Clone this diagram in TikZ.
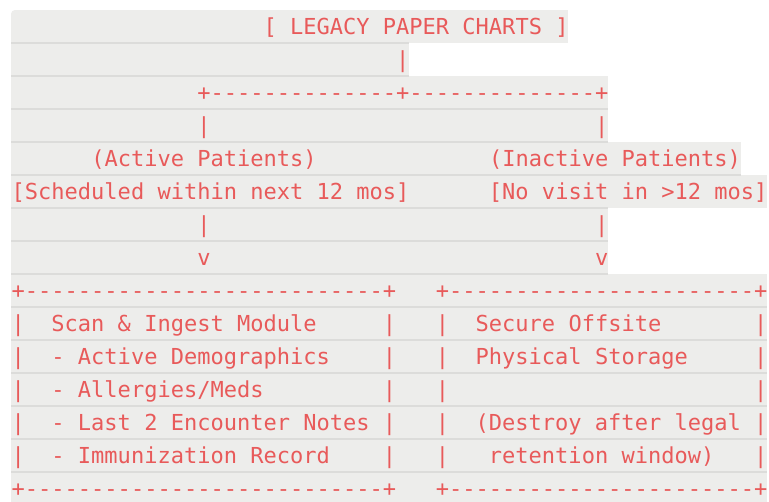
\documentclass[tikz,border=0pt]{standalone}
\usepackage{fontspec}
\setmonofont{DejaVu Sans Mono}
\usepackage{xcolor}
\usepackage{tikz}
\definecolor{lpcred}{HTML}{E85A5A}
\definecolor{lpcgray}{HTML}{EDEDEB}
\definecolor{lpcrule}{HTML}{DCDCDA}
\newlength{\cw}\setlength{\cw}{13.26pt}
\newcommand{\gap}[1]{\hspace*{#1\cw}}
\tikzset{
  rowbg/.style={fill=lpcgray},
  rowrule/.style={draw=lpcrule,line width=2pt},
  rowtext/.style={anchor=base west,inner sep=0pt,text=lpcred,font=\ttfamily\fontsize{22.02}{26}\selectfont},
}
\begin{document}
\begin{tikzpicture}[x=1pt,y=-1pt]
\useasboundingbox (0,0) rectangle (769,502);
\clip (0,0) rectangle (769,502);
% one shaded band per line of the chart
\foreach \i/\len/\txt in {
  1/42/{\gap{19}[ LEGACY PAPER CHARTS ]},
  2/30/{\gap{29}|},
  3/45/{\gap{14}+--------------+--------------+},
  4/45/{\gap{14}|\gap{29}|},
  5/55/{\gap{6}(Active Patients)\gap{13}(Inactive Patients)},
  6/57/{[Scheduled within next 12 mos]\gap{6}[No visit in >12 mos]},
  7/45/{\gap{14}|\gap{29}|},
  8/45/{\gap{14}v\gap{29}v},
  9/57/{+---------------------------+\gap{3}+-----------------------+},
  10/57/{|\gap{2}Scan \& Ingest Module\gap{5}|\gap{3}|\gap{2}Secure Offsite\gap{7}|},
  11/57/{|\gap{2}- Active Demographics\gap{4}|\gap{3}|\gap{2}Physical Storage\gap{5}|},
  12/57/{|\gap{2}- Allergies/Meds\gap{9}|\gap{3}|\gap{23}|},
  13/57/{|\gap{2}- Last 2 Encounter Notes |\gap{3}|\gap{2}(Destroy after legal |},
  14/57/{|\gap{2}- Immunization Record\gap{4}|\gap{3}|\gap{3}retention window)\gap{3}|},
  15/57/{+---------------------------+\gap{3}+-----------------------+}} {
  \fill[rowbg] (11,{10+33*(\i-1)}) rectangle ({11.5+\len*13.26},{10+33*\i});
  \node[rowtext] (r\i) at (11.5,{10+33*(\i-1)+24.5}) {\txt};
}
% round top-left corner of the block
\fill[white] (11,10) rectangle (15,14);
\fill[rowbg] (15,14) circle[radius=4pt];
% rules between bands
\foreach \i/\len in {1/30,2/30,3/45,4/45,5/55,6/45,7/45,8/45,9/57,10/57,11/57,12/57,13/57,14/57} {
  \draw[rowrule] (11,{10+33*\i}) -- ({11.5+\len*13.26},{10+33*\i});
}
\end{tikzpicture}
\end{document}
